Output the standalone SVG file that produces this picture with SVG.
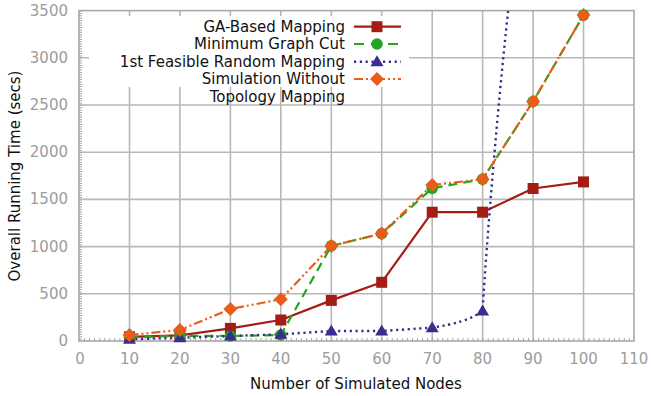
<svg xmlns="http://www.w3.org/2000/svg" width="651" height="396" viewBox="0 0 651 396">
<style>
text{font-family:"DejaVu Sans","Liberation Sans",sans-serif;font-size:15px}
.tick{fill:#9c9c9c;font-size:14.5px}
.tx{text-anchor:middle}
.ty{text-anchor:end}
.lab{fill:#111}
.leg{fill:#111;text-anchor:end}
.grid{stroke:#b8b8b8;stroke-width:1.6;fill:none}
.border{stroke:#a8a8a8;stroke-width:1.6;fill:none}
.ga{stroke:#a31d14;stroke-width:2.2;fill:none;stroke-linejoin:round}
.mgc{stroke:#22a522;stroke-width:2.2;fill:none;stroke-dasharray:9 6}
.rnd{stroke:#3a2d8e;stroke-width:2.4;fill:none;stroke-dasharray:2.2 3.6}
.sim{stroke:#e85d1a;stroke-width:2.2;fill:none;stroke-dasharray:9 3 2 3 2 3}
</style>
<defs>
<clipPath id="plot"><rect x="79" y="10.6" width="555" height="330.4"/></clipPath>
<rect id="msq" x="-5.5" y="-5.5" width="11" height="11" fill="#a31d14"/>
<circle id="mci" r="5.8" fill="#22a522"/>
<polygon id="mtr" points="0,-6.5 6.5,4.5 -6.5,4.5" fill="#3a2d8e"/>
<polygon id="mdi" points="0,-7 7,0 0,7 -7,0" fill="#e85d1a"/>
</defs>
<rect width="651" height="396" fill="#fff"/>
<g id="grid">
<path class="grid" d="M129.5 10.6V341M179.9 10.6V341M230.4 10.6V341M280.8 10.6V341M331.3 10.6V341M381.7 10.6V341M432.2 10.6V341M482.6 10.6V341M533.1 10.6V341M583.5 10.6V341M79 293.8H634M79 246.6H634M79 199.4H634M79 152.2H634M79 105H634M79 57.8H634"/>
</g>
<rect id="legend-bg" x="89" y="16" width="320" height="71" fill="#fff"/>
<g id="axes">
<rect class="border" x="79" y="10.6" width="555" height="330.4"/>
<line x1="79" y1="339.5" x2="634" y2="339.5" stroke="#a8a8a8" stroke-width="3" stroke-dasharray="1 4.045"/>
<line x1="80.5" y1="10.6" x2="80.5" y2="341" stroke="#a8a8a8" stroke-width="3" stroke-dasharray="1 1.36"/>
<g class="tick tx">
<text x="80" y="364">0</text><text x="129.5" y="364">10</text><text x="179.9" y="364">20</text><text x="230.4" y="364">30</text><text x="280.8" y="364">40</text><text x="331.3" y="364">50</text><text x="381.7" y="364">60</text><text x="432.2" y="364">70</text><text x="482.6" y="364">80</text><text x="533.1" y="364">90</text><text x="583.5" y="364">100</text><text x="634" y="364">110</text>
</g>
<g class="tick ty">
<text x="68" y="346">0</text><text x="68" y="298.8">500</text><text x="68" y="251.6">1000</text><text x="68" y="204.4">1500</text><text x="68" y="157.2">2000</text><text x="68" y="110">2500</text><text x="68" y="62.8">3000</text><text x="68" y="15.6">3500</text>
</g>
<text class="lab" x="356" y="389" text-anchor="middle">Number of Simulated Nodes</text>
<text class="lab" transform="translate(20,176) rotate(-90)" text-anchor="middle">Overall Running Time (secs)</text>
</g>
<g id="connectors" clip-path="url(#plot)">
<polyline id="line-ga" class="ga" points="129.5,336.8 179.9,335.3 230.4,328.4 280.8,320 331.3,300.4 381.7,282.3 432.2,212.2 482.6,212.2 533.1,188.5 583.5,181.9"/>
<polyline id="line-mgc" class="mgc" points="129.5,337.2 179.9,335.8 230.4,336 280.8,335 331.3,245.9 381.7,233.6 432.2,188.3 482.6,179.2 533.1,101.5 583.5,15.1"/>
<path id="line-rnd" class="rnd" d="M129.5 339.3L179.9 337.7L230.4 336L280.8 334.3L331.3 331L381.7 331L432.2 327.7C455 324 470 320 482.6 311C484 280 496 120 508.5 8"/>
<polyline id="line-sim" class="sim" points="129.5,335 179.9,330 230.4,309 280.8,299.3 331.3,245.9 381.7,233.6 432.2,185 482.6,179.2 533.1,101.5 583.5,15.1"/>
</g>
<g id="series-ga">
<use href="#msq" x="129.5" y="336.8"/><use href="#msq" x="179.9" y="335.3"/><use href="#msq" x="230.4" y="328.4"/><use href="#msq" x="280.8" y="320"/><use href="#msq" x="331.3" y="300.4"/><use href="#msq" x="381.7" y="282.3"/><use href="#msq" x="432.2" y="212.2"/><use href="#msq" x="482.6" y="212.2"/><use href="#msq" x="533.1" y="188.5"/><use href="#msq" x="583.5" y="181.9"/>
</g>
<g id="series-mgc">
<use href="#mci" x="129.5" y="337.2"/><use href="#mci" x="179.9" y="335.8"/><use href="#mci" x="230.4" y="336"/><use href="#mci" x="280.8" y="335"/><use href="#mci" x="331.3" y="245.9"/><use href="#mci" x="381.7" y="233.6"/><use href="#mci" x="432.2" y="188.3"/><use href="#mci" x="482.6" y="179.2"/><use href="#mci" x="533.1" y="101.5"/><use href="#mci" x="583.5" y="15.1"/>
</g>
<g id="series-rnd">
<use href="#mtr" x="129.5" y="339.3"/><use href="#mtr" x="179.9" y="337.7"/><use href="#mtr" x="230.4" y="336"/><use href="#mtr" x="280.8" y="334.3"/><use href="#mtr" x="331.3" y="331"/><use href="#mtr" x="381.7" y="331"/><use href="#mtr" x="432.2" y="327.7"/><use href="#mtr" x="482.6" y="311"/>
</g>
<g id="series-sim">
<use href="#mdi" x="129.5" y="335"/><use href="#mdi" x="179.9" y="330"/><use href="#mdi" x="230.4" y="309"/><use href="#mdi" x="280.8" y="299.3"/><use href="#mdi" x="331.3" y="245.9"/><use href="#mdi" x="381.7" y="233.6"/><use href="#mdi" x="432.2" y="185"/><use href="#mdi" x="482.6" y="179.2"/><use href="#mdi" x="533.1" y="101.5"/><use href="#mdi" x="583.5" y="15.1"/>
</g>
<g id="legend">
<text class="leg" x="345" y="31.7">GA-Based Mapping</text>
<line class="ga" x1="354" y1="26.7" x2="401" y2="26.7"/><use href="#msq" x="377" y="26.7"/>
<text class="leg" x="345" y="49">Minimum Graph Cut</text>
<line class="mgc" x1="354" y1="44" x2="401" y2="44" style="stroke-dasharray:10 7"/><use href="#mci" x="377" y="44"/>
<text class="leg" x="345" y="66.7">1st Feasible Random Mapping</text>
<line class="rnd" x1="354" y1="61.7" x2="401" y2="61.7"/><use href="#mtr" x="377" y="61.7"/>
<text class="leg" x="345" y="84">Simulation Without</text>
<text class="leg" x="345" y="101.7">Topology Mapping</text>
<line class="sim" x1="354" y1="79" x2="401" y2="79"/><use href="#mdi" x="377" y="79"/>
</g>
</svg>
